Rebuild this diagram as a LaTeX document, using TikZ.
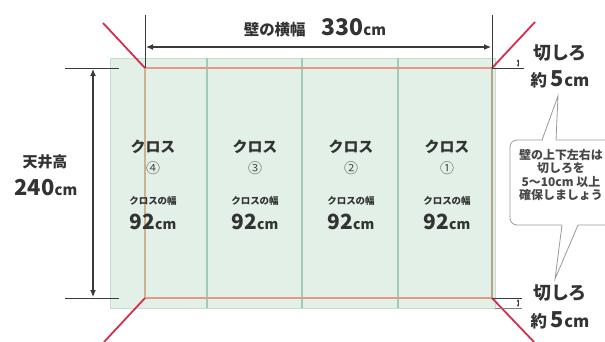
\documentclass[tikz,border=0pt]{standalone}
\usepackage{fontspec}
\setmainfont{Noto Sans CJK JP}
\usetikzlibrary{arrows.meta}
\definecolor{clothfill}{HTML}{E2F0E7}
\definecolor{clothedge}{HTML}{C3DFD0}
\definecolor{seam}{HTML}{9FCBB7}
\definecolor{wallh}{HTML}{E39A85}
\definecolor{wallv}{HTML}{CDB38C}
\definecolor{cutred}{HTML}{D42E4E}
\definecolor{ink}{HTML}{333333}
\definecolor{dimcol}{HTML}{3A3A3A}
\definecolor{callgray}{HTML}{9A9A9A}
\tikzset{
  lbl/.style={inner sep=0pt, text=ink, font=\bfseries, align=center},
  dimarrow/.style={draw=dimcol, line width=1.1bp, {Latex[length=7bp,width=6bp]}-{Latex[length=7bp,width=6bp]}},
  smallarrow/.style={draw=dimcol, line width=0.6bp, {Latex[length=2.5bp,width=2.5bp]}-{Latex[length=2.5bp,width=2.5bp]}},
  extline/.style={draw=dimcol, line width=0.8bp},
  cutline/.style={draw=cutred, line width=1.8bp},
  seamline/.style={draw=seam, line width=1.3bp},
  callbox/.style={draw=callgray, line width=0.8bp, fill=white},
}
\newcommand{\sz}[1]{\fontsize{#1}{#1}\selectfont}
\begin{document}
\begin{tikzpicture}[x=1bp,y=-1bp]
\useasboundingbox (0,0) rectangle (605,341);
\clip (0,0) rectangle (605,341);
% cloth area
\draw[fill=clothfill, draw=clothedge, line width=0.8bp] (110,58) rectangle (495,308);
\coordinate (s1t) at (207,58); \coordinate (s1b) at (207,308);
\coordinate (s2t) at (302,58); \coordinate (s2b) at (302,308);
\coordinate (s3t) at (398,58); \coordinate (s3b) at (398,308);
\draw[seamline] (s1t) -- (s1b);
\draw[seamline] (s2t) -- (s2b);
\draw[seamline] (s3t) -- (s3b);
\draw[draw=clothedge, line width=1bp] (495,58) -- (495,308);
% wall rectangle corners
\coordinate (wtl) at (145,68);
\coordinate (wtr) at (492,68);
\coordinate (wbl) at (145,298);
\coordinate (wbr) at (492,298);
\draw[wallh, line width=1.8bp] (wtl) -- (wtr);
\draw[wallh, line width=1.8bp] (wbl) -- (wbr);
\draw[wallv, line width=1.6bp] (wtl) -- (wbl);
\draw[wallv!70!gray, line width=1.6bp] (wtr) -- (wbr);
% red cut diagonals
\coordinate (ctl) at (103,23);
\coordinate (ctr) at (535,22);
\coordinate (cbl) at (104,342);
\coordinate (cbr) at (534,342);
\draw[cutline] (wtl) -- (ctl);
\draw[cutline] (wtr) -- (ctr);
\draw[cutline] (wbl) -- (cbl);
\draw[cutline] (wbr) -- (cbr);
% width dimension
\coordinate (el1) at (145,15);
\coordinate (el2) at (492,15);
\draw[extline] (el1) -- (wtl);
\draw[extline] (el2) -- (wtr);
\coordinate (wa1) at (146,47);
\coordinate (wa2) at (491,47);
\draw[dimarrow] (wa1) -- (wa2);
\node[lbl] (wtitle) at (315,28) {\sz{15.5}壁の横幅\hspace{16bp}\sz{23}330\sz{15}cm};
% height dimension
\coordinate (ht1) at (65,68); \coordinate (ht2) at (119,68);
\coordinate (hb1) at (65,298); \coordinate (hb2) at (119,298);
\draw[extline] (ht1) -- (ht2);
\draw[extline] (hb1) -- (hb2);
\coordinate (ha1) at (93,69);
\coordinate (ha2) at (93,297);
\draw[dimarrow] (ha1) -- (ha2);
\node[lbl] (htitle) at (45,162) {\sz{15}天井高};
\node[lbl] (hval) at (46,188) {\sz{22}240\sz{15}cm};
% strips text
\foreach \x/\n/\c in {153/4/④, 255/3/③, 351/2/②, 447/1/①}{
  \node[lbl] (cross\n) at (\x,147) {\sz{15}クロス};
  \node[lbl, font=\mdseries, text=ink!85] (num\n) at (\x,168) {\sz{14}\c};
  \node[lbl] (wlab\n) at (\x,201) {\sz{9.5}クロスの幅};
  \node[lbl] (wval\n) at (\x,222) {\sz{21}92\sz{14}cm};
}
% cut margin marks top right
\coordinate (mt1) at (492,68); \coordinate (mt2) at (524,68);
\draw[extline, line width=0.6bp] (mt1) -- (mt2);
\coordinate (ma1) at (518,59); \coordinate (ma2) at (518,67);
\draw[smallarrow] (ma1) -- (ma2);
\node[lbl] (kt1) at (560,53) {\sz{18}切しろ};
\node[lbl] (kt2) at (560,79) {\sz{16.5}約 \sz{22}5\sz{16.5}cm};
% cut margin marks bottom right
\coordinate (mb1) at (492,298); \coordinate (mb2) at (522,298);
\coordinate (mb3) at (495,308); \coordinate (mb4) at (522,308);
\draw[extline, line width=0.6bp] (mb1) -- (mb2);
\draw[extline, line width=0.6bp, draw=gray] (mb3) -- (mb4);
\coordinate (mc1) at (518,299); \coordinate (mc2) at (518,307);
\draw[smallarrow] (mc1) -- (mc2);
\node[lbl] (kb1) at (560,293) {\sz{18}切しろ};
\node[lbl] (kb2) at (560,320) {\sz{16.5}約 \sz{22}5\sz{16.5}cm};
% callout
\draw[callbox, rounded corners=7bp] (510,140) rectangle (640,225);
\coordinate (ptt) at (558,96);
\coordinate (ptb) at (555,279);
\fill[white] (542.5,141) -- (ptt) -- (556,141) -- cycle;
\draw[callgray, line width=0.8bp] (542,140) -- (ptt) -- (556,140);
\fill[white] (562,224) -- (ptb) -- (578,224) -- cycle;
\draw[callgray, line width=0.8bp] (562,225) -- (ptb) -- (578,225);
\node[lbl, text=ink!90] (callout) at (561,175)
  {\sz{12}壁の上下左右は\\[1.5bp]\sz{12}切しろを\\[1.5bp]\sz{12}5〜10cm 以上\\[1.5bp]\sz{12}確保しましょう};
\end{tikzpicture}
\end{document}
